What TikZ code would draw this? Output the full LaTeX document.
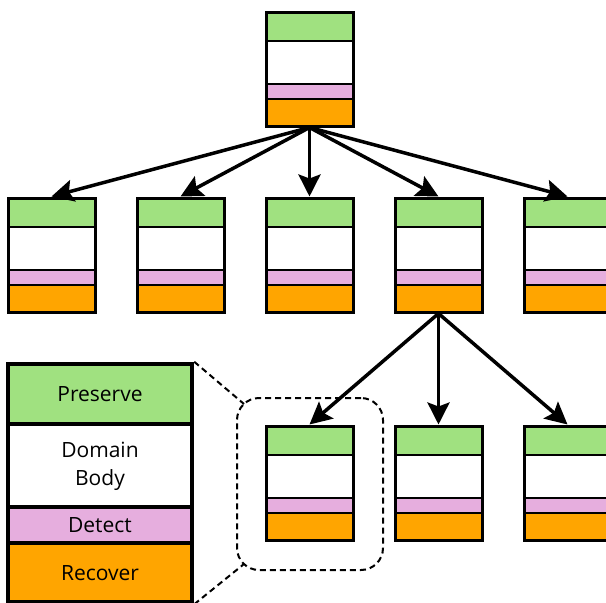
\documentclass[tikz,border=0pt]{standalone}
\usepackage{fontspec}
\setmainfont{Open Sans}
\usetikzlibrary{arrows.meta}

\definecolor{pgreen}{RGB}{160,225,128}
\definecolor{dpink}{RGB}{230,174,222}
\definecolor{rorange}{RGB}{255,165,0}

\tikzset{
  frame/.style={draw=black, line width=3pt, minimum width=87pt, minimum height=114pt, inner sep=0pt},
  band/.style={line width=2.5pt},
  arr/.style={line width=3.5pt, -{Stealth[length=22pt, width=22pt, inset=4pt]}},
  legendtext/.style={font=\fontsize{21}{28}\selectfont, align=center, inner sep=0pt},
  dashline/.style={line width=2pt, dash pattern=on 6pt off 4pt},
}

% one domain box: name, left edge, top edge
\newcommand\domainbox[3]{%
  \fill[pgreen]  (#2,#3)    rectangle ++(87,29);
  \fill[white]   (#2,#3+29) rectangle ++(87,43);
  \fill[dpink]   (#2,#3+72) rectangle ++(87,15);
  \fill[rorange] (#2,#3+87) rectangle ++(87,27);
  \draw[band] (#2,#3+29) -- ++(87,0);
  \draw[band] (#2,#3+72) -- ++(87,0);
  \draw[band] (#2,#3+87) -- ++(87,0);
  \node[frame] (#1) at (#2+43.5,#3+57) {};
}

\begin{document}
\begin{tikzpicture}[x=1pt, y=-1pt]
\useasboundingbox (0,0) rectangle (606,603);
\clip (0,0) rectangle (606,603);

% tree of domains
\domainbox{root}{266}{12}
\domainbox{a}{8}{198}
\domainbox{b}{137}{198}
\domainbox{c}{266}{198}
\domainbox{d}{395}{198}
\domainbox{e}{524}{198}
\domainbox{f}{266}{426}
\domainbox{g}{395}{426}
\domainbox{h}{524}{426}

\foreach \t in {a,b,c,d,e} \draw[arr] (root.south) -- (\t.north);
\foreach \t in {f,g,h} \draw[arr] (d.south) -- (\t.north);

% enlarged legend of one domain
\fill[pgreen]  (8,364) rectangle (192,424);
\fill[white]   (8,424) rectangle (192,507);
\fill[dpink]   (8,507) rectangle (192,543);
\fill[rorange] (8,543) rectangle (192,602);
\draw[line width=4.5pt] (8,424) -- (192,424);
\draw[line width=4.5pt] (8,507) -- (192,507);
\draw[line width=4.5pt] (8,543) -- (192,543);
\node[draw, line width=4.5pt, minimum width=184pt, minimum height=238pt, inner sep=0pt] (legend) at (100,483) {};
\node[legendtext] (lp) at (100,394) {Preserve};
\node[legendtext] (lb) at (100,466) {Domain\\Body};
\node[legendtext] (ld) at (100,525) {Detect};
\node[legendtext] (lr) at (100,573) {Recover};

% magnifier frame around the highlighted domain
\node[dashline, draw, rounded corners=22pt, minimum width=146pt, minimum height=172pt, inner sep=0pt] (zoomframe) at (310,484) {};
\coordinate (zc1) at (244,404);
\coordinate (zc2) at (244,564);
\draw[dashline] (legend.north east) -- (zc1);
\draw[dashline] (legend.south east) -- (zc2);
\end{tikzpicture}
\end{document}
